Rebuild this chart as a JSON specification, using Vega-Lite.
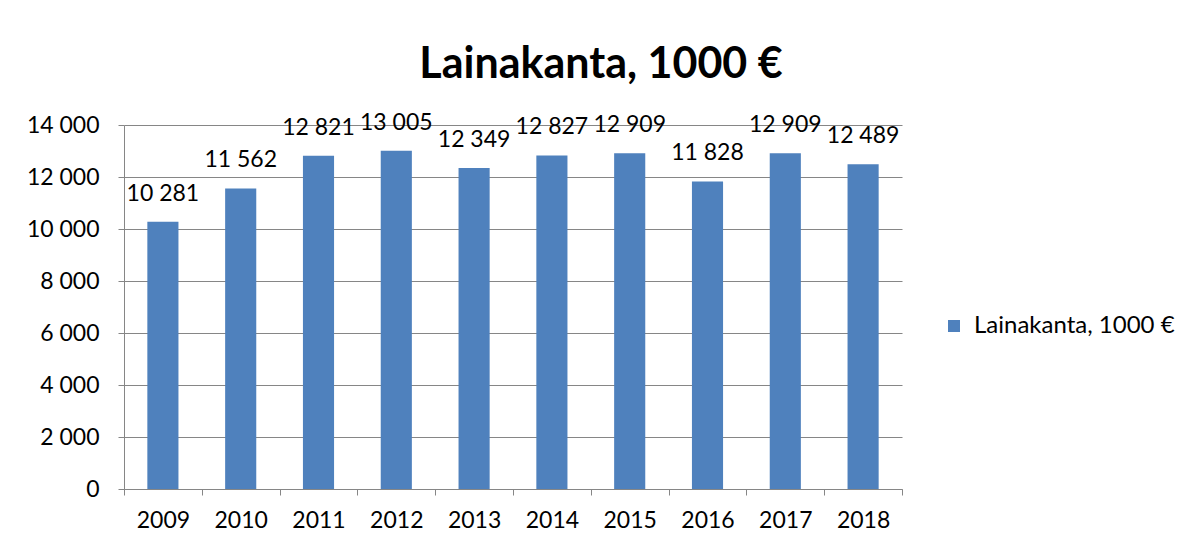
{
  "$schema": "https://vega.github.io/schema/vega-lite/v6.json",
  "autosize": {"type": "none"},
  "width": 778,
  "height": 364,
  "padding": {"left": 124, "top": 125, "right": 282, "bottom": 58},
  "background": "white",
  "title": {
    "text": "Lainakanta, 1000 €",
    "anchor": "middle",
    "frame": "group",
    "dx": 88,
    "baseline": "alphabetic",
    "offset": -9,
    "font": "Lato",
    "fontSize": 43,
    "fontWeight": "bold",
    "color": "black"
  },
  "data": {
    "values": [
      {"year": "2009", "value": 10281, "series": "Lainakanta, 1000 €"},
      {"year": "2010", "value": 11562, "series": "Lainakanta, 1000 €"},
      {"year": "2011", "value": 12821, "series": "Lainakanta, 1000 €"},
      {"year": "2012", "value": 13005, "series": "Lainakanta, 1000 €"},
      {"year": "2013", "value": 12349, "series": "Lainakanta, 1000 €"},
      {"year": "2014", "value": 12827, "series": "Lainakanta, 1000 €"},
      {"year": "2015", "value": 12909, "series": "Lainakanta, 1000 €"},
      {"year": "2016", "value": 11828, "series": "Lainakanta, 1000 €"},
      {"year": "2017", "value": 12909, "series": "Lainakanta, 1000 €"},
      {"year": "2018", "value": 12489, "series": "Lainakanta, 1000 €"}
    ]
  },
  "encoding": {
    "x": {
      "field": "year",
      "type": "ordinal",
      "scale": {"paddingInner": 0, "paddingOuter": 0},
      "axis": {
        "title": null,
        "labelAngle": 0,
        "tickBand": "extent",
        "tickSize": 6,
        "tickColor": "#868686",
        "domainColor": "#868686",
        "labelPadding": 14,
        "labelFont": "Lato",
        "labelFontSize": 23,
        "labelColor": "black",
        "grid": false
      }
    },
    "y": {
      "field": "value",
      "type": "quantitative",
      "scale": {"domain": [0, 14000], "nice": false},
      "axis": {
        "title": null,
        "values": [0, 2000, 4000, 6000, 8000, 10000, 12000, 14000],
        "format": ",d",
        "tickSize": 6,
        "tickColor": "#868686",
        "domainColor": "#868686",
        "gridColor": "#868686",
        "grid": true,
        "labelPadding": 19,
        "labelFont": "Lato",
        "labelFontSize": 23,
        "labelColor": "black"
      }
    }
  },
  "layer": [
    {
      "mark": {"type": "bar", "width": {"band": 0.4}},
      "encoding": {
        "color": {
          "field": "series",
          "type": "nominal",
          "scale": {"range": ["#4F81BD"]},
          "legend": {
            "title": null,
            "orient": "none",
            "legendX": 818,
            "legendY": 189,
            "symbolType": "square",
            "symbolSize": 144,
            "symbolStrokeWidth": 0,
            "labelFont": "Lato",
            "labelFontSize": 24,
            "labelColor": "black",
            "labelOffset": 8,
            "labelLimit": 400
          }
        }
      }
    },
    {
      "mark": {"type": "text", "baseline": "middle", "dy": -28, "font": "Lato", "fontSize": 23, "color": "black"},
      "encoding": {
        "text": {"field": "value", "type": "quantitative", "format": ",d"}
      }
    }
  ],
  "config": {
    "locale": {"number": {"decimal": ",", "thousands": " ", "grouping": [3], "currency": ["", " €"]}},
    "view": {"stroke": null},
    "axis": {"domainWidth": 1, "tickWidth": 1, "gridWidth": 1}
  }
}
